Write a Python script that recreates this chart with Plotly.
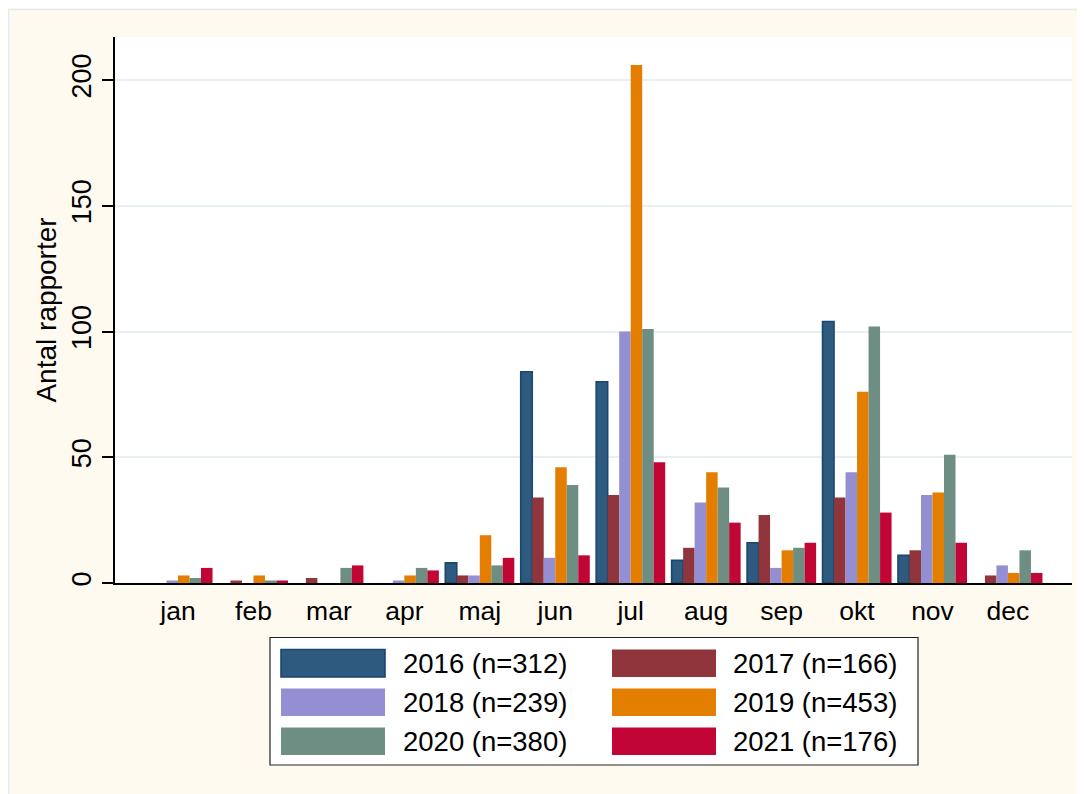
import plotly.graph_objects as go

months = ["jan", "feb", "mar", "apr", "maj", "jun", "jul", "aug", "sep", "okt", "nov", "dec"]
series_names = ["2016 (n=312)", "2017 (n=166)", "2018 (n=239)", "2019 (n=453)", "2020 (n=380)", "2021 (n=176)"]
v2016 = [0, 0, 0, 0, 8, 84, 80, 9, 16, 104, 11, 0]
v2017 = [0, 1, 2, 0, 3, 34, 35, 14, 27, 34, 13, 3]
v2018 = [1, 0, 0, 1, 3, 10, 100, 32, 6, 44, 35, 7]
v2019 = [3, 3, 0, 3, 19, 46, 206, 44, 13, 76, 36, 4]
v2020 = [2, 1, 6, 6, 7, 39, 101, 38, 14, 102, 51, 13]
v2021 = [6, 1, 7, 5, 10, 11, 48, 24, 16, 28, 16, 4]
y_ticks = [0, 50, 100, 150, 200]

values = [v2016, v2017, v2018, v2019, v2020, v2021]
fills = ["#2F5A7F", "#90353B", "#948FD2", "#E37E00", "#6E8E84", "#C10534"]
lines = ["#1A476F", "#90353B", "#948FD2", "#E37E00", "#6E8E84", "#C10534"]
line_w = [1.6, 0, 0, 0, 0, 0]

FONT = "Liberation Sans, Arial, sans-serif"
OFF = 8  # page offset of the figure inside the browser window
W, H = 1085 - OFF, 794 - OFF
# plot area in page pixels: x 115..1072, y 37..583
L, R, T, B = 115 - OFF, 13, 37 - OFF, 794 - 583
PW, PH = W - L - R, H - T - B

def px_x(p):
    return (p - OFF - L) / PW

def px_y(p):
    return (794 - B - p) / PH

fig = go.Figure()
for name, vals, fc, lc, lw in zip(series_names, values, fills, lines, line_w):
    fig.add_trace(go.Bar(
        x=months, y=vals, name=name,
        marker=dict(color=fc, line=dict(color=lc, width=[lw if v > 0 else 0 for v in vals])),
        showlegend=False,
    ))

shapes = []
annotations = []
# thin outer frame lines (top and left)
shapes.append(dict(type="line", xref="paper", yref="paper",
                   x0=px_x(7.5), x1=px_x(1100), y0=px_y(9.5), y1=px_y(9.5),
                   line=dict(color="#E4EBED", width=1.5)))
shapes.append(dict(type="line", xref="paper", yref="paper",
                   x0=px_x(8.5), x1=px_x(8.5), y0=px_y(9), y1=px_y(800),
                   line=dict(color="#E4EBED", width=1.5)))
# custom legend
shapes.append(dict(type="rect", xref="paper", yref="paper",
                   x0=px_x(270), x1=px_x(918), y0=px_y(765), y1=px_y(637.5),
                   fillcolor="white", line=dict(color="#222222", width=1.2)))
col_sw = [281, 612]
col_tx = [401, 731]
row_y = [649.5, 688.5, 727.5]
for i, (name, fc, lc, lw) in enumerate(zip(series_names, fills, lines, line_w)):
    r, c = divmod(i, 2)
    y0 = row_y[r]
    shp = dict(type="rect", xref="paper", yref="paper",
               x0=px_x(col_sw[c]), x1=px_x(col_sw[c] + 104),
               y0=px_y(y0 + 27.5), y1=px_y(y0),
               fillcolor=fc)
    shp["line"] = dict(color=lc, width=lw) if lw else dict(width=0)
    shapes.append(shp)
    annotations.append(dict(xref="paper", yref="paper", x=px_x(col_tx[c]), y=px_y(y0 + 14),
                            text=name, showarrow=False, xanchor="left", yanchor="middle",
                            font=dict(family=FONT, size=27.5, color="black")))

fig.update_layout(
    width=W, height=H,
    margin=dict(l=L, r=R, t=T, b=B, pad=0),
    paper_bgcolor="#FFFAF0",
    plot_bgcolor="white",
    barmode="group",
    bargap=0.085,
    bargroupgap=0,
    font=dict(family=FONT, size=26, color="black"),
    shapes=shapes,
    annotations=annotations,
    xaxis=dict(
        type="category",
        range=[-0.835, 11.849],
        showgrid=False,
        showline=True, linecolor="black", linewidth=2,
        ticks="", tickfont=dict(size=26.5),
        ticklabelstandoff=3,
        zeroline=False,
    ),
    yaxis=dict(
        range=[0, 217.1],
        tickvals=y_ticks,
        tickangle=-90,
        ticks="outside", ticklen=11, tickwidth=1.5, tickcolor="black",
        tickfont=dict(size=27),
        showgrid=True, gridcolor="#E8EFF2", gridwidth=1.5,
        showline=True, linecolor="black", linewidth=1.5,
        zeroline=False,
        title=dict(text="Antal rapporter", font=dict(size=28), standoff=3),
    ),
)

fig.write_html("out.html")
